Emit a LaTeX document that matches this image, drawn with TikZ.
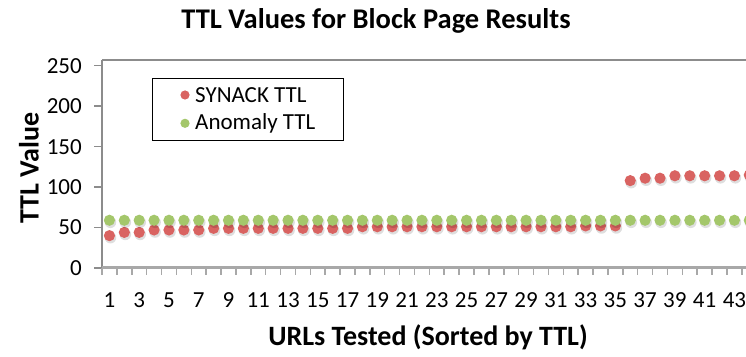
\documentclass[tikz,border=0pt]{standalone}
\usepackage{fontspec}
\setmainfont{Carlito}
\definecolor{synred}{RGB}{217,99,97}
\definecolor{anogreen}{RGB}{164,199,107}
\definecolor{axisgrey}{RGB}{140,140,140}
\definecolor{baseaxis}{RGB}{168,168,168}
\begin{document}
\begin{tikzpicture}[x=1pt,y=1pt,
  ticklabel/.style={font=\fontsize{23}{27}\selectfont,inner sep=0pt},
  axistitle/.style={font=\bfseries\fontsize{28}{32}\selectfont,inner sep=0pt},
  legendtext/.style={font=\fontsize{23}{27}\selectfont,anchor=west,inner sep=0pt},
  dotshadow/.style={black,opacity=0.13}]
\useasboundingbox (0,0) rectangle (746,356);
% x position of category i, y position of value v
\def\xstep{14.88}
\def\xorg{102}
\def\yorg{88}
\def\yscl{0.809}
\begin{scope}
\clip (0,0) rectangle (746,356);
% plot frame
\draw[axisgrey,line width=1.2pt] (\xorg,296) -- (746,296);
\draw[axisgrey,line width=2pt] (\xorg,296) -- (\xorg,\yorg);
% value ticks
\foreach \v in {0,50,...,250}
  \draw[axisgrey,line width=1.5pt] (94,{\yorg+\v*\yscl}) -- (\xorg,{\yorg+\v*\yscl});
% category ticks
\foreach \k in {0,...,43}
  \draw[baseaxis,line width=1.5pt] ({\xorg+\k*\xstep},\yorg) -- ({\xorg+\k*\xstep},81);
\draw[baseaxis,line width=3pt] (\xorg,\yorg) -- (746,\yorg);
% SYNACK TTL series
\def\synvals{40,44,44,47,47,47,47,49,49,49,49,49,49,49,49,49,49,51,51,51,51,51,51,51,51,51,51,51,51,51,51,51,52,52,52,108,111,111,114,114,114,114,114,115,115}
\foreach \v [count=\i] in \synvals {
  \fill[dotshadow] ({\xorg+(\i-0.5)*\xstep+1},{\yorg+\v*\yscl-2}) circle (5.8);
  \fill[synred] ({\xorg+(\i-0.5)*\xstep},{\yorg+\v*\yscl}) circle (5.6);
}
% Anomaly TTL series
\foreach \i in {1,...,45} {
  \fill[dotshadow] ({\xorg+(\i-0.5)*\xstep+1},{\yorg+59*\yscl-2}) circle (5.8);
  \fill[anogreen] ({\xorg+(\i-0.5)*\xstep},{\yorg+59*\yscl}) circle (5.6);
}
\end{scope}
% value labels
\foreach \v in {0,50,...,250}
  \node[ticklabel,anchor=east] (yl\v) at (82,{\yorg+\v*\yscl}) {\v};
% category labels
\foreach \n in {1,3,...,43}
  \node[ticklabel,anchor=base] (xl\n) at ({\xorg+(\n-0.5)*\xstep},48.5) {\n};
% titles
\node[font=\bfseries\fontsize{28.5}{32}\selectfont,inner sep=0pt] (title) at (376,335) {TTL Values for Block Page Results};
\node[axistitle] (xtitle) at (428,19) {URLs Tested (Sorted by TTL)};
\node[axistitle,rotate=90] (ytitle) at (29,188) {TTL Value};
% legend
\draw[black,line width=1.2pt,fill=white] (152.7,215.3) rectangle (343.3,277.7);
\fill[synred] (185,261) circle (4.6);
\node[legendtext] (lsyn) at (195,261) {SYNACK TTL};
\fill[anogreen] (185,232.7) circle (4.6);
\node[legendtext] (lano) at (195,232.7) {Anomaly TTL};
\end{tikzpicture}
\end{document}
